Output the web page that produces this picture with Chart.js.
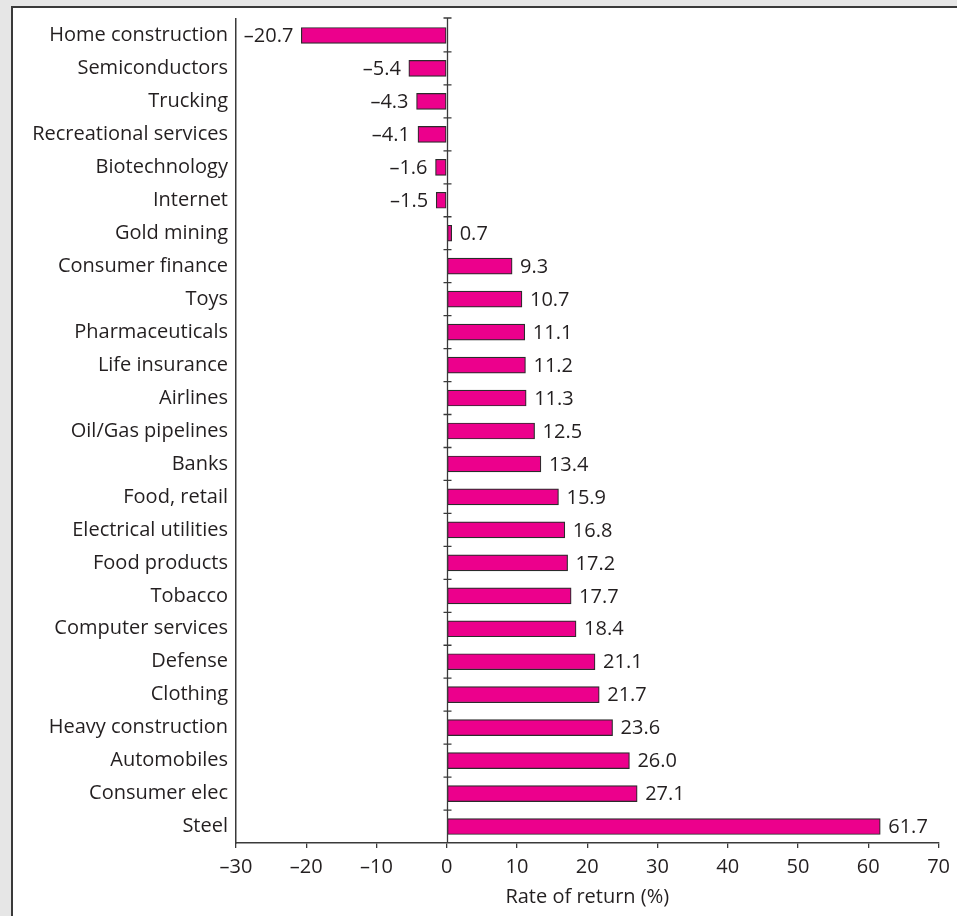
<!DOCTYPE html>
<html>
<head>
<meta charset="utf-8">
<script src="https://cdn.jsdelivr.net/npm/chart.js@4"></script>
<style>
  html, body { margin:0; padding:0; background:#e6e6e6; width:957px; height:916px; overflow:hidden; }
  #panel { position:absolute; left:11px; top:6px; right:0; bottom:0; background:#fff;
           border-left:2px solid #3a3a3a; border-top:2px solid #3a3a3a; }
  #wrap { position:absolute; left:0; top:0; width:957px; height:916px; }
</style>
</head>
<body>
<div id="panel"></div>
<div id="wrap"><canvas id="returnsChart" width="957" height="916"></canvas></div>
<script>
// industry returns
const industries = ['Home construction','Semiconductors','Trucking','Recreational services','Biotechnology',
  'Internet','Gold mining','Consumer finance','Toys','Pharmaceuticals','Life insurance','Airlines',
  'Oil/Gas pipelines','Banks','Food, retail','Electrical utilities','Food products','Tobacco',
  'Computer services','Defense','Clothing','Heavy construction','Automobiles','Consumer elec','Steel'];
const returns = [-20.7,-5.4,-4.3,-4.1,-1.6,-1.5,0.7,9.3,10.7,11.1,11.2,11.3,12.5,13.4,15.9,16.8,17.2,17.7,
  18.4,21.1,21.7,23.6,26.0,27.1,61.7];
const xTicks = [-30,-20,-10,0,10,20,30,40,50,60,70];

const FONT = "'Open Sans', 'Noto Sans', sans-serif";
const INK = '#231f20';
const dash = v => (v < 0 ? '\u2013' + Math.abs(v) : String(v));

// value labels next to each bar
const valueLabels = {
  id:'valueLabels',
  afterDatasetsDraw(chart){
    const ctx = chart.ctx, meta = chart.getDatasetMeta(0);
    ctx.save();
    ctx.font = '20px ' + FONT;
    ctx.fillStyle = INK;
    ctx.textBaseline = 'middle';
    meta.data.forEach((bar, i) => {
      const v = returns[i];
      const txt = v < 0 ? '\u2013' + Math.abs(v).toFixed(1) : v.toFixed(1);
      if(v < 0){ ctx.textAlign = 'right'; ctx.fillText(txt, bar.x - 8, bar.y + 1); }
      else { ctx.textAlign = 'left'; ctx.fillText(txt, bar.x + 8, bar.y + 1); }
    });
    ctx.restore();
  }
};

// vertical zero line with small ticks between categories
const zeroLine = {
  id:'zeroLine',
  afterDatasetsDraw(chart){
    const ctx = chart.ctx, x = chart.scales.x, y = chart.scales.y;
    const x0 = Math.round(x.getPixelForValue(0)) + 0.5;
    const top = chart.chartArea.top - 1, bottom = chart.chartArea.bottom;
    ctx.save();
    ctx.strokeStyle = '#3a3a3a';
    ctx.lineWidth = 1.3;
    ctx.beginPath();
    ctx.moveTo(x0, top); ctx.lineTo(x0, bottom);
    for(let i = 0; i < industries.length; i++){
      const yy = i === 0 ? top : (y.getPixelForValue(i - 1) + y.getPixelForValue(i)) / 2;
      ctx.moveTo(x0 - 4, yy); ctx.lineTo(x0 + 4, yy);
    }
    ctx.stroke();
    ctx.restore();
  }
};

new Chart(document.getElementById('returnsChart'), {
  type:'bar',
  data:{
    labels: industries,
    datasets:[{
      data: returns,
      backgroundColor:'#ec008c',
      borderColor:'#2b2b2b',
      borderWidth:1.2,
      borderSkipped:false,
      barThickness:16
    }]
  },
  options:{
    indexAxis:'y',
    responsive:false,
    animation:false,
    devicePixelRatio:1,
    layout:{ padding:{ left:0, right:16, top:19, bottom:0 } },
    plugins:{ legend:{display:false}, tooltip:{enabled:false} },
    scales:{
      x:{
        min:-30, max:70,
        afterBuildTicks: s => { s.ticks = xTicks.map(v => ({value:v})); },
        afterFit: s => { s.height = 73; },
        grid:{ drawOnChartArea:false, drawTicks:true, tickLength:5, color:'#3a3a3a', lineWidth:1.3 },
        border:{ display:true, color:'#3a3a3a', width:1.5 },
        ticks:{ color:INK, font:{family:FONT, size:20}, padding:7, callback: v => dash(v) },
        title:{ display:true, text:'Rate of return (%)', color:INK, font:{family:FONT, size:20}, padding:{top:0, bottom:7} }
      },
      y:{
        afterFit: s => { s.width = 236; },
        grid:{ display:false },
        border:{ display:true, color:'#3a3a3a', width:1.5 },
        ticks:{ color:INK, font:{family:FONT, size:20}, padding:0, autoSkip:false }
      }
    }
  },
  plugins:[zeroLine, valueLabels]
});
</script>
</body>
</html>
